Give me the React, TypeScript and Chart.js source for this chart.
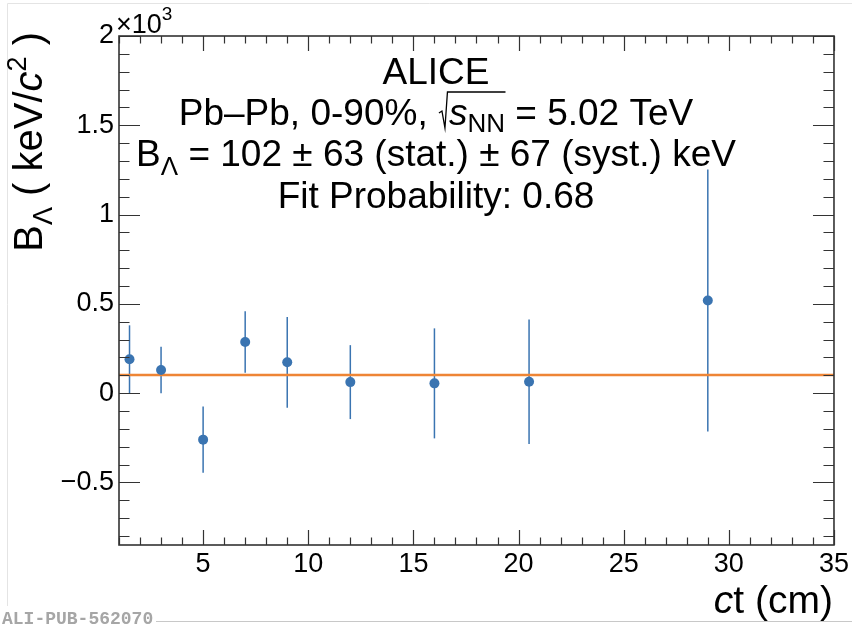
import React, { useEffect, useRef } from "react";
import { Chart, registerables } from "chart.js";

Chart.register(...registerables);

// ---- data (B_Lambda in units of 10^3 keV) ----
const ctValues = [1.5, 3, 5, 7, 9, 12, 16, 20.5, 29];
const bLambda = [0.19, 0.13, -0.26, 0.287, 0.173, 0.062, 0.055, 0.064, 0.519];
const bLambdaErr = [0.19, 0.13, 0.185, 0.172, 0.254, 0.207, 0.308, 0.348, 0.733];
const fitValue = 0.102;
const xTickLabels = [5, 10, 15, 20, 25, 30, 35];
const yTickLabels = [-0.5, 0, 0.5, 1, 1.5, 2];
const xRange = [1, 35];
const yRange = [-0.85, 2];
const textLines = [
  "ALICE",
  "Pb–Pb, 0-90%, ",
  " = 5.02 TeV",
  " = 102 ± 63 (stat.) ± 67 (syst.) keV",
  "Fit Probability: 0.68",
];

const BLUE = "#3a74b1";
const ORANGE = "#ee8535";
const FRAME = "#333333";
const FONT = '"Liberation Sans", Arial, sans-serif';

const f = (size: number, italic = false, bold = false) =>
  `${italic ? "italic " : ""}${bold ? "bold " : ""}${size}px ${FONT}`;

type Seg = { t: string; size: number; italic?: boolean; dy?: number; radical?: boolean; over?: number };

function drawRich(ctx: CanvasRenderingContext2D, segs: Seg[], x: number, y: number, align: "center" | "right" | "left") {
  const widths = segs.map((s) => {
    if (s.radical) return 11;
    ctx.font = f(s.size, s.italic);
    return ctx.measureText(s.t).width;
  });
  const total = widths.reduce((a, b) => a + b, 0);
  let cx = align === "center" ? x - total / 2 : align === "right" ? x - total : x;
  ctx.textAlign = "left";
  ctx.textBaseline = "alphabetic";
  segs.forEach((s, i) => {
    if (s.radical) {
      let ow = 0;
      for (let k = 1; k <= (s.over || 0); k++) ow += widths[i + k];
      const top = y - 33;
      const bot = y + 3;
      ctx.save();
      ctx.strokeStyle = "#000";
      ctx.lineWidth = 1.3;
      ctx.beginPath();
      ctx.moveTo(cx + 1, y - 12);
      ctx.lineTo(cx + 4, y - 14);
      ctx.lineTo(cx + 7, bot);
      ctx.lineTo(cx + 9.5, top);
      ctx.lineTo(cx + 9.5 + ow + 2, top);
      ctx.stroke();
      ctx.restore();
    } else {
      ctx.font = f(s.size, s.italic);
      ctx.fillText(s.t, cx, y + (s.dy || 0));
    }
    cx += widths[i];
  });
}

const rootPlugin = {
  id: "rootStyle",
  beforeDatasetsDraw(chart: any) {
    const { ctx, scales } = chart;
    const x = scales.x;
    const y = scales.y;
    ctx.save();
    ctx.strokeStyle = BLUE;
    ctx.lineWidth = 1.5;
    ctValues.forEach((cv, i) => {
      const px = x.getPixelForValue(cv);
      ctx.beginPath();
      ctx.moveTo(px, y.getPixelForValue(bLambda[i] + bLambdaErr[i]));
      ctx.lineTo(px, y.getPixelForValue(bLambda[i] - bLambdaErr[i]));
      ctx.stroke();
    });
    ctx.restore();
  },
  afterDraw(chart: any) {
    const { ctx, chartArea, scales } = chart;
    const x = scales.x;
    const y = scales.y;
    const { left, right, top, bottom } = chartArea;
    ctx.save();

    // faint page frame
    ctx.strokeStyle = "#e4e4e4";
    ctx.lineWidth = 1;
    ctx.beginPath();
    ctx.moveTo(7.5, 606);
    ctx.lineTo(7.5, 3.5);
    ctx.lineTo(852, 3.5);
    ctx.stroke();
    ctx.strokeStyle = "#c8c8c8";
    ctx.beginPath();
    ctx.moveTo(156, 621.5);
    ctx.lineTo(852, 621.5);
    ctx.stroke();

    // ticks
    ctx.strokeStyle = FRAME;
    ctx.lineWidth = 1.2;
    ctx.beginPath();
    for (let v = xRange[0]; v <= xRange[1] + 1e-9; v += 1) {
      const px = Math.round(x.getPixelForValue(v)) + 0.5;
      const major = xTickLabels.includes(v);
      const len = major ? 15 : 7.5;
      ctx.moveTo(px, bottom);
      ctx.lineTo(px, bottom - len);
      ctx.moveTo(px, top);
      ctx.lineTo(px, top + len);
    }
    for (let k = -8; k <= 20; k++) {
      const v = k / 10;
      const py = Math.round(y.getPixelForValue(v)) + 0.5;
      const major = k % 5 === 0;
      const len = major ? 21 : 10.5;
      ctx.moveTo(left, py);
      ctx.lineTo(left + len, py);
      ctx.moveTo(right, py);
      ctx.lineTo(right - len, py);
    }
    ctx.stroke();

    // frame
    ctx.lineWidth = 1.6;
    ctx.strokeRect(left, top, right - left, bottom - top);

    ctx.fillStyle = "#000";
    // x10^3
    drawRich(ctx, [
      { t: "×10", size: 27 },
      { t: "3", size: 19, dy: -13 },
    ], 116, 33, "left");

    // annotation block
    const cxText = 436;
    const FS = 37;
    drawRich(ctx, [{ t: textLines[0], size: FS }], cxText, 84, "center");
    drawRich(ctx, [
      { t: textLines[1], size: FS },
      { t: "", size: FS, radical: true, over: 2 },
      { t: "s", size: FS, italic: true },
      { t: "NN", size: 26, dy: 7 },
      { t: textLines[2], size: FS },
    ], cxText, 125, "center");
    drawRich(ctx, [
      { t: "B", size: FS },
      { t: "Λ", size: 26, dy: 9 },
      { t: textLines[3], size: FS },
    ], cxText, 166, "center");
    drawRich(ctx, [{ t: textLines[4], size: FS }], cxText, 208, "center");

    // x axis title
    drawRich(ctx, [
      { t: "c", size: 39, italic: true },
      { t: "t (cm)", size: 39 },
    ], 833, 613, "right");

    // y axis title (rotated)
    ctx.save();
    ctx.translate(42, 0);
    ctx.rotate(-Math.PI / 2);
    drawRich(ctx, [
      { t: "B", size: 40 },
      { t: "Λ", size: 27, dy: 10 },
      { t: " ( keV/", size: 40 },
      { t: "c", size: 40, italic: true },
      { t: "2", size: 27, dy: -16 },
      { t: " )", size: 40 },
    ], -32, 0, "right");
    ctx.restore();

    // watermark
    ctx.font = 'bold 18px "Liberation Mono", "Courier New", monospace';
    ctx.fillStyle = "#a6a6a6";
    ctx.textAlign = "left";
    ctx.textBaseline = "alphabetic";
    ctx.fillText("ALI-PUB-562070", 2, 624);

    ctx.restore();
  },
};

export default function App() {
  const ref = useRef<HTMLCanvasElement | null>(null);
  useEffect(() => {
    if (!ref.current) return;
    const chart = new Chart(ref.current, {
      type: "scatter",
      data: {
        datasets: [
          {
            type: "scatter",
            data: ctValues.map((v, i) => ({ x: v, y: bLambda[i] })),
            pointRadius: 5,
            pointBackgroundColor: BLUE,
            pointBorderWidth: 0,
            borderWidth: 0,
          } as any,
          {
            type: "line",
            data: [
              { x: xRange[0], y: fitValue },
              { x: xRange[1], y: fitValue },
            ],
            borderColor: ORANGE,
            borderWidth: 2.5,
            pointRadius: 0,
            fill: false,
          } as any,
        ],
      },
      options: {
        animation: false,
        responsive: false,
        events: [],
        layout: { padding: { top: 36, right: 17, left: 0, bottom: 0 } },
        plugins: { legend: { display: false }, tooltip: { enabled: false } },
        scales: {
          x: {
            type: "linear",
            min: xRange[0],
            max: xRange[1],
            grid: { display: false, drawTicks: false },
            border: { display: false },
            afterBuildTicks: (s: any) => {
              s.ticks = xTickLabels.map((v) => ({ value: v }));
            },
            afterFit: (s: any) => {
              s.height = 81;
            },
            ticks: {
              autoSkip: false,
              maxRotation: 0,
              padding: 3,
              color: "#000",
              font: { family: FONT, size: 27 },
              callback: (v: any) => String(v),
            },
          },
          y: {
            type: "linear",
            min: yRange[0],
            max: yRange[1],
            grid: { display: false, drawTicks: false },
            border: { display: false },
            afterBuildTicks: (s: any) => {
              s.ticks = yTickLabels.map((v) => ({ value: v }));
            },
            afterFit: (s: any) => {
              s.width = 119;
            },
            ticks: {
              autoSkip: false,
              padding: 5,
              color: "#000",
              font: { family: FONT, size: 27 },
              callback: (v: any) => String(v).replace("-", "−"),
            },
          },
        },
      } as any,
      plugins: [rootPlugin],
    });
    return () => chart.destroy();
  }, []);
  return (
    <div style={{ position: "fixed", left: 0, top: 0, width: 852, height: 626, background: "#fff" }}>
      <canvas ref={ref} width={852} height={626} style={{ display: "block" }} />
    </div>
  );
}
